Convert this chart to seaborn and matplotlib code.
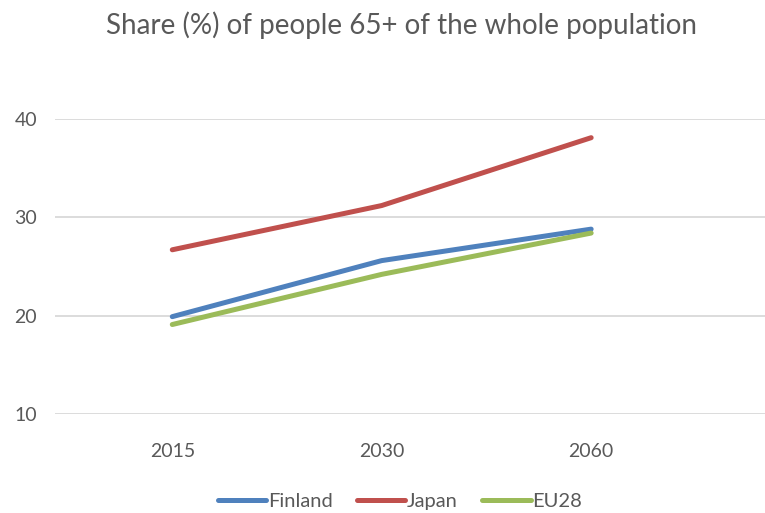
import matplotlib
matplotlib.use("Agg")
import matplotlib.pyplot as plt
import seaborn as sns
import pandas as pd

# Data
years = ["2015", "2030", "2060"]
finland = [19.9, 25.6, 28.8]
japan = [26.7, 31.2, 38.1]
eu28 = [19.1, 24.2, 28.4]

series_names = ["Finland", "Japan", "EU28"]
series_colors = ["#4F81BD", "#C0504D", "#9BBB59"]

df = pd.DataFrame({
    "year": years * 3,
    "share": finland + japan + eu28,
    "series": [s for s in series_names for _ in years],
})

sns.set_style("white")
plt.rcParams["font.family"] = ["Lato", "DejaVu Sans"]
text_color = "#595959"

fig = plt.figure(figsize=(7.65, 5.13), dpi=100)
ax = fig.add_axes([55 / 765, 99 / 513, 710 / 765, 295 / 513])

sns.lineplot(data=df, x="year", y="share", hue="series", palette=series_colors,
             hue_order=series_names, linewidth=3.6, ax=ax, sort=False)
for line in ax.lines:
    line.set_solid_capstyle("round")
    line.set_clip_on(False)

ax.set_ylim(10, 40)
ax.set_yticks([10, 20, 30, 40])
ax.set_xlim(-0.56, 2.83)
ax.grid(axis="y", color="#D9D9D9", linewidth=1.3)
ax.set_axisbelow(True)
for side in ["top", "right", "left", "bottom"]:
    ax.spines[side].set_visible(False)
ax.tick_params(axis="y", length=0, pad=13, labelsize=14, labelcolor=text_color)
ax.tick_params(axis="x", length=0, pad=21, labelsize=14, labelcolor=text_color)
ax.set_xlabel("")
ax.set_ylabel("")

fig.text(401 / 765, 1 - 25 / 513, "Share (%) of people 65+ of the whole population",
         ha="center", va="center", fontsize=20, color=text_color)

handles, labels = ax.get_legend_handles_labels()
ax.legend(handles, labels, loc="center", bbox_to_anchor=(400 / 765, 12 / 513),
          bbox_transform=fig.transFigure, ncol=3, frameon=False, fontsize=14.5,
          handlelength=2.4, handletextpad=0.1, columnspacing=1.2, labelcolor=text_color)

fig.savefig("out.png", dpi=100, facecolor="white")
